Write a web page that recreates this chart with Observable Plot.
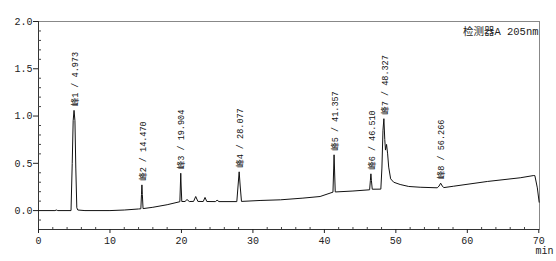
<!DOCTYPE html>
<html><head><meta charset="utf-8">
<script src="https://cdn.jsdelivr.net/npm/d3@7"></script>
<script src="https://cdn.jsdelivr.net/npm/@observablehq/plot@0.6"></script>
<style>
body{margin:0;background:#fff;}
#chart svg{display:block;}
</style>
</head><body><div id="chart"></div>
<script>
// Chromatogram trace (time in min, signal)
const traceTime = [0, 2.3, 2.5, 2.7, 4.55, 4.72, 4.85, 4.973, 5.1, 5.22, 5.36, 5.5, 6.5,
  10, 12, 14, 14.32, 14.41, 14.47, 14.53, 14.63, 16, 18, 19.78, 19.85, 19.904, 19.96, 20.05,
  20.5, 20.78, 21.1, 21.7, 22.0, 22.3, 23.05, 23.3, 23.55, 24.75, 24.99, 25.25,
  27.75, 27.92, 28.077, 28.22, 28.4, 31, 33.85, 37, 39.4, 41.2, 41.3, 41.357, 41.42, 41.52,
  44, 46.33, 46.44, 46.51, 46.58, 46.7, 47.9, 48.05, 48.2, 48.327, 48.45, 48.55, 48.7, 48.85,
  49.0, 49.27, 49.7, 50.6, 51.8, 53.4, 55.8, 56.05, 56.266, 56.5, 56.7, 58.1, 62.8, 67.4,
  69.3, 69.45, 69.8, 70.05];
const traceSignal = [0, 0, 0.006, 0, 0, 0.5, 0.95, 1.06, 0.95, 0.45, 0.03, 0.006, 0,
  0, 0.006, 0.017, 0.019, 0.17, 0.272, 0.17, 0.021, 0.035, 0.062, 0.094, 0.26, 0.395, 0.26, 0.096,
  0.096, 0.117, 0.096, 0.097, 0.149, 0.097, 0.096, 0.139, 0.096, 0.095, 0.11, 0.095,
  0.095, 0.26, 0.41, 0.26, 0.097, 0.107, 0.114, 0.132, 0.149, 0.195, 0.44, 0.59, 0.44, 0.197,
  0.207, 0.22, 0.32, 0.389, 0.32, 0.226, 0.227, 0.45, 0.85, 0.972, 0.75, 0.64, 0.70, 0.6,
  0.46, 0.336, 0.30, 0.276, 0.255, 0.247, 0.241, 0.26, 0.29, 0.26, 0.243, 0.258, 0.308, 0.347,
  0.371, 0.37, 0.24, 0.089];

// Peak annotations
const peakNames = ["峰1", "峰2", "峰3", "峰4", "峰5", "峰6", "峰7", "峰8"];
const peakTimes = [4.973, 14.470, 19.904, 28.077, 41.357, 46.510, 48.327, 56.266];
const peakApex = [1.06, 0.272, 0.395, 0.41, 0.59, 0.389, 0.972, 0.29];

// Axes
const xTicks = [0, 10, 20, 30, 40, 50, 60, 70];
const xMinorTicks = [2, 4, 6, 8, 12, 14, 16, 18, 22, 24, 26, 28, 32, 34, 36, 38, 42, 44, 46, 48, 52, 54, 56, 58, 62, 64, 66, 68];
const yTicks = [0, 0.5, 1.0, 1.5, 2.0];
const yMinorTicks = [-0.1, 0.1, 0.2, 0.3, 0.4, 0.6, 0.7, 0.8, 0.9, 1.1, 1.2, 1.3, 1.4, 1.6, 1.7, 1.8, 1.9];
const xDomain = [0, 70.1];
const yDomain = [-0.2, 2.0];
const xUnit = "min";
const detectorLabel = "检测器A 205nm";

const trace = traceTime.map((t, i) => ({t, v: traceSignal[i]}));
const peaks = peakNames.map((n, i) => ({name: n, t: peakTimes[i], v: peakApex[i]}));

const FONT = '"Liberation Mono", "Noto Sans CJK SC", monospace';
const W = 556, H = 261, mT = 21, mB = 32, mL = 38, mR = 17;
const frameH = H - mT - mB, frameW = W - mL - mR;

const chart = Plot.plot({
  width: W, height: H,
  marginTop: mT, marginBottom: mB, marginLeft: mL, marginRight: mR,
  style: {fontFamily: FONT, fontSize: "10px", color: "#222", background: "#fff"},
  x: {domain: xDomain},
  y: {domain: yDomain},
  marks: [
    Plot.frame({stroke: "#888"}),
    Plot.ruleX([xDomain[0]], {stroke: "#333"}),
    Plot.ruleY([yDomain[0]], {stroke: "#333"}),
    Plot.tickX(xMinorTicks, {x: d => d, insetTop: frameH - 2, stroke: "#444"}),
    Plot.tickY(yMinorTicks, {y: d => d, insetRight: frameW - 3, stroke: "#444"}),
    Plot.axisX({ticks: xTicks, tickSize: 4, tickPadding: 3, tickFormat: d => d,
      label: xUnit, labelAnchor: "right", labelArrow: "none", labelOffset: 24, fontSize: 10}),
    Plot.axisY({ticks: yTicks, tickSize: 5, tickPadding: 1, tickFormat: d3.format(".1f"),
      label: null, fontSize: 10}),
    Plot.line(trace, {x: "t", y: "v", stroke: "#111", strokeWidth: 1}),
    Plot.text(peaks, {x: "t", y: "v", text: d => `${d.name} / ${d.t.toFixed(3)}`,
      rotate: -90, textAnchor: "start", dy: -4, dx: 1, fontSize: 8.5, fill: "#111"}),
    Plot.text([detectorLabel], {frameAnchor: "top-right", text: d => d, dy: 6, dx: -1,
      textAnchor: "end", fontSize: 10.5, fill: "#222"})
  ]
});
document.getElementById("chart").appendChild(chart);
</script>
</body></html>
